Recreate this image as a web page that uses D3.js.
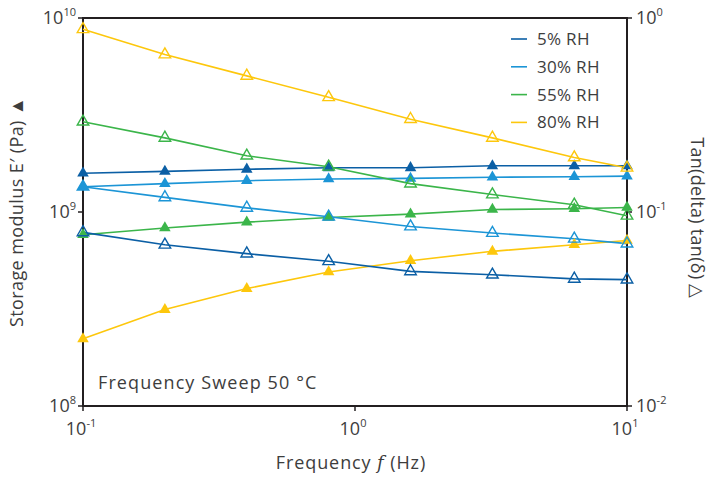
<!DOCTYPE html>
<html>
<head>
<meta charset="utf-8">
<script src="https://cdn.jsdelivr.net/npm/d3@7"></script>
<style>
  body { margin: 0; background: #fff; }
  text { font-family: "Open Sans", Lato, sans-serif; fill: #3d3d3d; }
</style>
</head>
<body>
<svg id="chart"></svg>
<script>
"use strict";

//Chart size and plot box
const w = 709;
const h = 477;
const margin = { top: 18, right: 82, bottom: 71, left: 83 };

//Frequencies (Hz) for every measured point
const freqs = [0.1, 0.2, 0.4, 0.8, 1.6, 3.2, 6.4, 10];

//Storage modulus E' (Pa), filled triangles
const storage5 = [1.585e9, 1.62e9, 1.66e9, 1.69e9, 1.69e9, 1.73e9, 1.73e9, 1.73e9];
const storage30 = [1.35e9, 1.4e9, 1.45e9, 1.48e9, 1.49e9, 1.51e9, 1.52e9, 1.53e9];
const storage55 = [7.64e8, 8.27e8, 8.87e8, 9.37e8, 9.75e8, 1.03e9, 1.04e9, 1.055e9];
const storage80 = [2.22e8, 3.14e8, 4.03e8, 4.91e8, 5.61e8, 6.27e8, 6.78e8, 7.13e8];

//tan(delta), open triangles
const tan5 = [0.0785, 0.0678, 0.061, 0.0557, 0.0494, 0.0475, 0.0452, 0.0448];
const tan30 = [0.135, 0.119, 0.105, 0.0945, 0.0842, 0.0779, 0.0728, 0.0687];
const tan55 = [0.292, 0.241, 0.195, 0.171, 0.14, 0.123, 0.109, 0.0956];
const tan80 = [0.875, 0.648, 0.503, 0.39, 0.301, 0.241, 0.191, 0.169];

const seriesNames = ["5% RH", "30% RH", "55% RH", "80% RH"];
const colors = ["#0b5fa5", "#1c95d6", "#3bb54a", "#fdc70c"];

const xTicks = [-1, 0, 1];
const leftTicks = [8, 9, 10];
const rightTicks = [-2, -1, 0];

const svg = d3.select("#chart").attr("width", w).attr("height", h);

const x = d3.scaleLog().domain([0.1, 10]).range([margin.left, w - margin.right]);
const yLeft = d3.scaleLog().domain([1e8, 1e10]).range([h - margin.bottom, margin.top]);
const yRight = d3.scaleLog().domain([1e-2, 1]).range([h - margin.bottom, margin.top]);

const storageSeries = [storage5, storage30, storage55, storage80];
const tanSeries = [tan5, tan30, tan55, tan80];

//Power of ten label with a raised exponent
const powLabel = (sel, exp) => {
  sel.append("tspan").text("10");
  sel.append("tspan").attr("dy", -8).attr("font-size", 11).text(exp);
};

//Plot frame
const axisColor = "#231f20";
const x0 = margin.left;
const x1 = w - margin.right;
const y0 = margin.top;
const y1 = h - margin.bottom;

svg.append("path")
  .attr("d", `M${x0},${y0}H${x1}V${y1}H${x0}Z`)
  .attr("fill", "none")
  .attr("stroke", axisColor)
  .attr("stroke-width", 2);

//Bottom ticks
const xAxisG = svg.append("g");
xTicks.forEach((e) => {
  const px = x(Math.pow(10, e));
  xAxisG.append("line").attr("x1", px).attr("x2", px).attr("y1", y1).attr("y2", y1 + 5)
    .attr("stroke", axisColor).attr("stroke-width", 1.5);
  const t = xAxisG.append("text").attr("x", px - 2).attr("y", y1 + 29)
    .attr("text-anchor", "middle").attr("font-size", 18);
  powLabel(t, e);
});

//Left ticks
leftTicks.forEach((e) => {
  const py = yLeft(Math.pow(10, e));
  svg.append("line").attr("x1", x0 - 5).attr("x2", x0).attr("y1", py).attr("y2", py)
    .attr("stroke", axisColor).attr("stroke-width", 1.5);
  const t = svg.append("text").attr("x", x0 - 7).attr("y", py + 6)
    .attr("text-anchor", "end").attr("font-size", 18);
  powLabel(t, e);
});

//Right ticks
rightTicks.forEach((e) => {
  const py = yRight(Math.pow(10, e));
  svg.append("line").attr("x1", x1).attr("x2", x1 + 5).attr("y1", py).attr("y2", py)
    .attr("stroke", axisColor).attr("stroke-width", 1.5);
  const t = svg.append("text").attr("x", x1 + 9).attr("y", py + 6)
    .attr("text-anchor", "start").attr("font-size", 18);
  powLabel(t, e);
});

//Axis titles
svg.append("text")
  .attr("transform", `translate(23, ${(y0 + y1) / 2}) rotate(-90)`)
  .attr("text-anchor", "middle").attr("font-size", 18)
  .attr("letter-spacing", 0.4)
  .text("Storage modulus E\u2032 (Pa) \u25B2");

svg.append("text")
  .attr("transform", `translate(691, ${(y0 + y1) / 2 + 6}) rotate(90)`)
  .attr("text-anchor", "middle").attr("font-size", 18)
  .attr("letter-spacing", 0.3)
  .text("Tan(delta) tan(\u03B4) \u25B3");

const xTitle = svg.append("text")
  .attr("x", (x0 + x1) / 2 - 4).attr("y", 469)
  .attr("text-anchor", "middle").attr("font-size", 18)
  .attr("letter-spacing", 0.9);
xTitle.append("tspan").text("Frequency ");
xTitle.append("tspan").attr("font-style", "italic").attr("font-family", "DejaVu Serif").text("f");
xTitle.append("tspan").text(" (Hz)");

svg.append("text")
  .attr("x", 98).attr("y", 389).attr("font-size", 18)
  .attr("letter-spacing", 1.1)
  .text("Frequency Sweep 50 \u00B0C");

//Lines
const lineLeft = d3.line().x((d, i) => x(freqs[i])).y((d) => yLeft(d));
const lineRight = d3.line().x((d, i) => x(freqs[i])).y((d) => yRight(d));

const lines = svg.append("g").attr("fill", "none").attr("stroke-width", 1.6);
storageSeries.forEach((s, k) => {
  lines.append("path").attr("d", lineLeft(s)).attr("stroke", colors[k]);
});
tanSeries.forEach((s, k) => {
  lines.append("path").attr("d", lineRight(s)).attr("stroke", colors[k]);
});

//Markers
const tri = d3.symbol().type(d3.symbolTriangle).size(58);

storageSeries.forEach((s, k) => {
  svg.append("g").selectAll("path").data(s).enter().append("path")
    .attr("d", tri)
    .attr("transform", (d, i) => `translate(${x(freqs[i])}, ${yLeft(d)})`)
    .attr("fill", colors[k]);
});

tanSeries.forEach((s, k) => {
  svg.append("g").selectAll("path").data(s).enter().append("path")
    .attr("d", tri)
    .attr("transform", (d, i) => `translate(${x(freqs[i])}, ${yRight(d)})`)
    .attr("fill", "#fff")
    .attr("fill-opacity", 0)
    .attr("stroke", colors[k])
    .attr("stroke-width", 1.4);
});

//Legend
const legend = svg.append("g").attr("transform", "translate(511, 39)");
seriesNames.forEach((name, k) => {
  const row = legend.append("g").attr("transform", `translate(0, ${k * 27.8})`);
  row.append("line").attr("x1", 0).attr("x2", 16).attr("y1", 0).attr("y2", 0)
    .attr("stroke", colors[k]).attr("stroke-width", 1.6);
  row.append("text").attr("x", 26).attr("y", 6).attr("font-size", 17)
    .attr("letter-spacing", 0.3).text(name);
});
</script>
</body>
</html>
